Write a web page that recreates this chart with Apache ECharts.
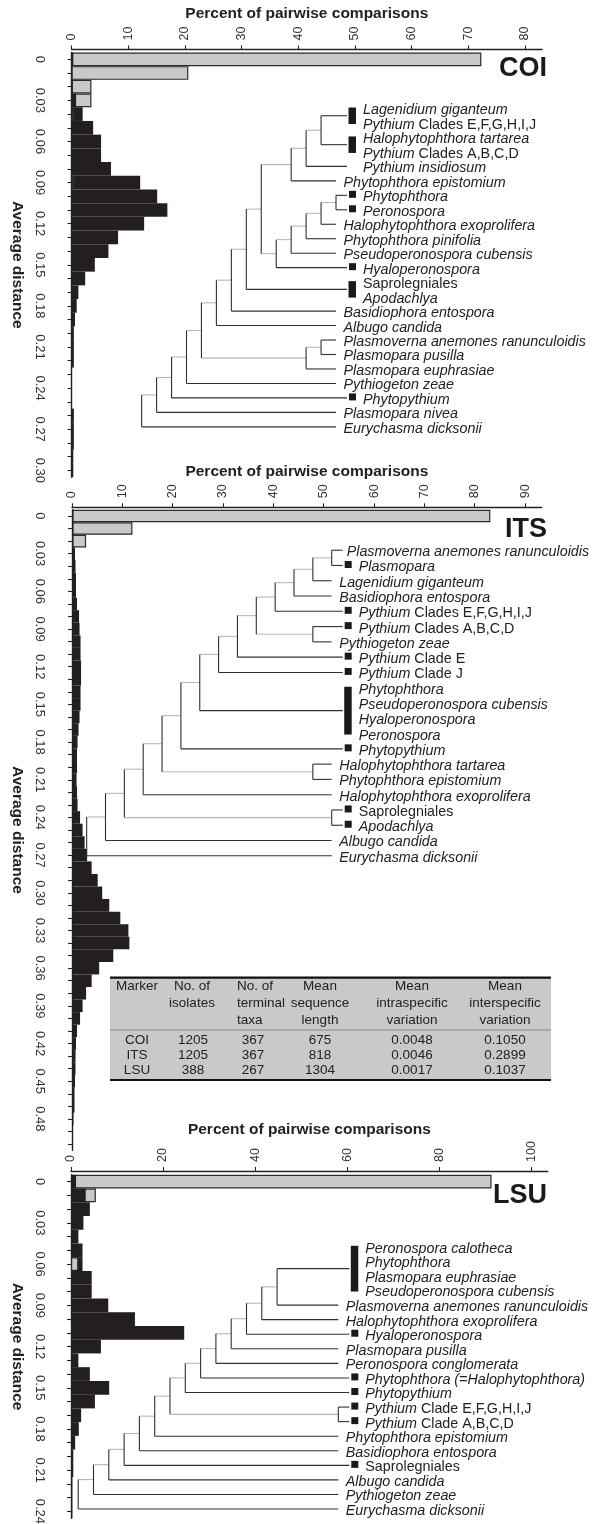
<!DOCTYPE html>
<html><head><meta charset="utf-8">
<script src="https://cdn.jsdelivr.net/npm/echarts@6/dist/echarts.min.js"></script>
<style>html,body{margin:0;padding:0;background:#fff}#c{width:600px;height:1524px}</style>
</head><body><div id="c"></div>
<script>
// ---------------- DATA ----------------
// x-axis tick labels (percent of pairwise comparisons)
const coiTicks = [0,10,20,30,40,50,60,70,80];
const itsTicks = [0,10,20,30,40,50,60,70,80,90];
const lsuTicks = [0,20,40,60,80,100];

// histogram bins of average distance (0.01 wide); grey = intraspecific, black = interspecific
const coiGrey  = [72.3,20.6,3.5,3.5,0.4,0,0,0,0,0.4,0,0,0,0,0,0,0,0,0,0,0,0,0,0,0,0,0,0,0,0,0];
const coiBlack = [0.3,0,0.2,0.8,1.95,3.8,5.2,5.2,6.95,12.1,15.1,16.9,12.8,8.2,6.5,4.1,2.4,1.2,0.9,0.6,0.4,0.4,0.4,0,0,0,0.4,0.4,0.4,0.3,0.3];
const itsGrey  = [83.1,12.0,2.8,0,0,0,0,0,0,0,0,0,0,0,0,0,0,0,0,0,0,0,0,0,0,0,0,0,0,0,0,0,0,0,0,0,0,0,0,0,0,0,0,0,0,0,0,0,0,0,0];
const itsBlack = [0.3,0.3,0.3,0.6,0.7,0.8,0.8,1.0,1.4,1.5,1.7,1.7,1.8,1.8,1.7,1.7,1.5,1.3,1.1,1.0,1.0,0.9,1.0,1.1,1.6,2.1,2.5,3.0,3.9,5.1,6.0,7.4,9.6,11.2,11.4,8.2,5.4,3.9,2.8,2.1,1.6,1.0,0.8,0.7,0.7,0.6,0.5,0.5,0.3,0.2,0.2];
const lsuGrey  = [91.4,5.4,0,0,0,0,1.6,0,0,0,0,0,0,0,0,0,0,0,0,0,0,0,0,0,0];
const lsuBlack = [1.1,3.2,4.1,2.7,1.6,2.5,2.5,4.5,4.5,8.1,13.9,24.6,6.5,1.6,4.1,8.3,5.2,2.2,1.7,0.9,0.5,0.5,0.3,0.3,0.3];

// dendrogram tips (rows), marker kind per row: b = shared-barcode group, s = square, i = indented, '' = none
const coiTaxa = ['Lagenidium giganteum','Pythium Clades E,F,G,H,I,J','Halophytophthora tartarea','Pythium Clades A,B,C,D','Pythium insidiosum','Phytophthora epistomium','Phytophthora','Peronospora','Halophytophthora exoprolifera','Phytophthora pinifolia','Pseudoperonospora cubensis','Hyaloperonospora','Saprolegniales','Apodachlya','Basidiophora entospora','Albugo candida','Plasmoverna anemones ranunculoidis','Plasmopara pusilla','Plasmopara euphrasiae','Pythiogeton zeae','Phytopythium','Plasmopara nivea','Eurychasma dicksonii'];
const coiMarks = ['b','b','b','b','i','','s','s','','','','s','b','b','','','','','','','s','',''];
// merges: [childA, childB, node level]; number = row, [a,b] = grouped rows, 'nK' = merge K
const coiMerges = [[[0,1],[2,3],1],['n0',4,2],['n1',5,3],[6,7,0],['n3',8,1],['n4',9,2],['n5',10,3],['n6',11,4],['n2','n7',5],['n8',[12,13],6],['n9',14,7],['n10',15,8],[16,17,1],['n12',18,2],['n11','n13',9],['n14',19,10],['n15',20,11],['n16',21,12],['n17',22,13]];

const itsTaxa = ['Plasmoverna anemones ranunculoidis','Plasmopara','Lagenidium giganteum','Basidiophora entospora','Pythium Clades E,F,G,H,I,J','Pythium Clades A,B,C,D','Pythiogeton zeae','Pythium Clade E','Pythium Clade J','Phytophthora','Pseudoperonospora cubensis','Hyaloperonospora','Peronospora','Phytopythium','Halophytophthora tartarea','Phytophthora epistomium','Halophytophthora exoprolifera','Saprolegniales','Apodachlya','Albugo candida','Eurychasma dicksonii'];
const itsMarks = ['','s','','','s','s','','s','s','b','b','b','b','s','','','','s','s','',''];
const itsMerges = [[0,1,0],['n0',2,1],['n1',3,2],['n2',4,3],[5,6,1],['n3','n4',4],['n5',7,5],['n6',8,6],['n7',[9,12],7],['n8',13,8],[14,15,1],['n9','n10',9],['n11',16,10],[17,18,0],['n12','n13',11],['n14',19,12],['n15',20,13]];

const lsuTaxa = ['Peronospora calotheca','Phytophthora','Plasmopara euphrasiae','Pseudoperonospora cubensis','Plasmoverna anemones ranunculoidis','Halophytophthora exoprolifera','Hyaloperonospora','Plasmopara pusilla','Peronospora conglomerata','Phytophthora (=Halophytophthora)','Phytopythium','Pythium Clade E,F,G,H,I,J','Pythium Clade A,B,C,D','Phytophthora epistomium','Basidiophora entospora','Saprolegniales','Albugo candida','Pythiogeton zeae','Eurychasma dicksonii'];
const lsuMarks = ['b','b','b','b','','','s','','','s','s','s','s','','','s','','',''];
const lsuMerges = [[[0,3],4,4],['n0',5,5],['n1',6,6],['n2',7,7],['n3',8,8],['n4',9,9],['n5',10,10],[11,12,0],['n6','n7',11],['n8',13,12],['n9',14,13],['n10',15,14],['n11',16,15],['n12',17,16],['n13',18,17]];

// summary table
const tableHead = ['Marker','No. of\nisolates','No. of\nterminal\ntaxa','Mean\nsequence\nlength','Mean\nintraspecific\nvariation','Mean\ninterspecific\nvariation'];
const tableRows = [['COI','1205','367','675','0.0048','0.1050'],['ITS','1205','367','818','0.0046','0.2899'],['LSU','388','267','1304','0.0017','0.1037']];
const markerNames = ['COI','ITS','LSU'];

// ---------------- LAYOUT ----------------
const FONT = '"Liberation Sans", Arial, Helvetica, sans-serif';
const INK = '#231f20';
const panels = [
  {grey:coiGrey, black:coiBlack, ticks:coiTicks, xMax:83, grid:{left:71.6, top:52.45, width:470.4, height:424.7}, yOff:12.3, xOff:3, tag:[547,69],
   tree:{taxa:coiTaxa, marks:coiMarks, merges:coiMerges, tipX:336, step:14.95, row0:110, rowStep:14.47}},
  {grey:itsGrey, black:itsBlack, ticks:itsTicks, xMax:93.3, grid:{left:72, top:509.7, width:469.7, height:640.6}, yOff:12.7, xOff:2.4, tag:[547,530],
   tree:{taxa:itsTaxa, marks:itsMarks, merges:itsMerges, tipX:331.7, step:18.85, row0:551.7, rowStep:15.28}},
  {grey:lsuGrey, black:lsuBlack, ticks:lsuTicks, xMax:103.6, grid:{left:71, top:1174.8, width:476.7, height:343.5}, yOff:11.7, xOff:3.8, tag:[547,1196],
   tree:{taxa:lsuTaxa, marks:lsuMarks, merges:lsuMerges, tipX:338.3, step:15.3, row0:1248.3, rowStep:14.57}}
];

const GREY = {color:'#c9c9c9', borderColor:'#2b2b2b', borderWidth:1.2};
const BLACK = {color:INK, borderWidth:0};
function layer(grey, black, front){
  return grey.map((g,k)=>{
    const b = black[k];
    const greyBig = g >= b;
    const v = front ? Math.min(g,b) : Math.max(g,b);
    if (!v) return '-';
    const isGrey = front ? !greyBig : greyBig;
    return {value:v, itemStyle:isGrey?GREY:BLACK};
  });
}
function fmt(s){
  if (s === 'Saprolegniales') return s;
  const m = s.match(/^(Pythium) (Clades? .*)$/);
  if (m) return '{i|' + m[1] + '} ' + m[2];
  return '{i|' + s + '}';
}
const LBL = 14.3;
function treeRender(t){
  return function(params, api){
    const ch = [];
    const rowY = r => api.coord([0, r])[1];
    const lx = l => api.coord([l, 0])[0];
    const tipX = lx(0);
    const ext = {};
    t.merges.forEach(m => { if (m[2] === 0) [m[0],m[1]].forEach(c => { if (typeof c === 'number') ext[c] = true; }); });
    const nodes = [];
    const pos = c => {
      if (typeof c === 'number') return {x:tipX, y:rowY(c)-1.5, leaf:true, ext: t.marks[c] !== '' || ext[c]};
      if (Array.isArray(c)) return {x:tipX, y:(rowY(c[0])+rowY(c[1]))/2 - 1.5, leaf:true, ext:true, grp:c};
      return nodes[+c.slice(1)];
    };
    const dark = '#303030', light = '#b8b8b8';
    const ln = (x1,y1,x2,y2,col) => ({type:'line', shape:{x1,y1,x2,y2}, style:{stroke:col, lineWidth:1.1}});
    const verts = [];
    t.merges.forEach((m,k)=>{
      const x = lx(m[2]);
      const a = pos(m[0]), b = pos(m[1]);
      [a,b].forEach(c=>{
        const x2 = c.leaf ? tipX + (c.ext ? 11 : 0) : c.x;
        ch.push(ln(x, c.y, x2, c.y, c.leaf ? dark : light));
        if (c.grp) {
          const top = rowY(c.grp[0]) - 2.5, bot = rowY(c.grp[1]) - 0.5;
          ch.push({type:'rect', shape:{x:tipX+12.5, y:top, width:7.5, height:bot-top}, style:{fill:'#1a1a1a'}});
        }
      });
      verts.push(ln(x, a.y, x, b.y, dark));
      nodes[k] = {x, y:(a.y+b.y)/2, leaf:false};
    });
    verts.forEach(v=>ch.push(v));
    t.taxa.forEach((name,r)=>{
      const mk = t.marks[r];
      const y = rowY(r);
      if (mk === 's') ch.push({type:'rect', shape:{x:tipX+13, y:y-6, width:7, height:7}, style:{fill:'#1a1a1a'}});
      const x = mk ? tipX + 27 : (ext[r] ? tipX + 15 : tipX + 7.5);
      ch.push({type:'text', style:{text:fmt(name), x, y:y+0.5, align:'left', verticalAlign:'middle',
        fontFamily:FONT, fontSize:LBL, fill:'#222',
        rich:{i:{fontStyle:'italic', fontFamily:FONT, fontSize:LBL, fill:'#222'}}}});
    });
    return {type:'group', children:ch};
  };
}

const option = {animation:false, backgroundColor:'#fff', grid:[], xAxis:[], yAxis:[], series:[], graphic:[]};
const nameStyle = {fontFamily:FONT, fontWeight:'bold', fontSize:15.5, color:'#222'};
panels.forEach((p,i)=>{
  option.grid.push(Object.assign({containLabel:false, outerBoundsMode:'none'}, p.grid));
  option.xAxis.push({type:'value', gridIndex:i, position:'top', min:0, max:p.xMax, offset:p.xOff,
    name:'Percent of pairwise comparisons', nameLocation:'middle', nameGap:28, nameTextStyle:nameStyle,
    axisLine:{show:true, lineStyle:{color:'#222', width:1.4}},
    axisTick:{show:true, customValues:p.ticks, length:4, lineStyle:{color:'#222', width:1.1}},
    axisLabel:{customValues:p.ticks, rotate:-90, margin:9, fontFamily:FONT, fontSize:12.5, color:'#333'},
    splitLine:{show:false}});
  const n = p.grey.length;
  option.yAxis.push({type:'category', gridIndex:i, inverse:true, offset:p.yOff,
    data:Array.from({length:n}, (_,k)=>(k/100).toFixed(2)),
    name:'Average distance', nameLocation:'middle', nameRotate:-90, nameGap:33, nameTextStyle:nameStyle,
    axisLine:{show:true, lineStyle:{color:'#222', width:1.4}},
    axisTick:{show:true, alignWithLabel:true, interval:0, length:4, lineStyle:{color:'#222', width:1.1}},
    axisLabel:{interval:2, rotate:-90, margin:13, fontFamily:FONT, fontSize:13, color:'#333',
      formatter:v => v === '0.00' ? '0' : v}});
  option.series.push({type:'bar', xAxisIndex:i, yAxisIndex:i, data:layer(p.grey,p.black,false), barWidth:'100%', barGap:'-100%', z:2, silent:true});
  option.series.push({type:'bar', xAxisIndex:i, yAxisIndex:i, data:layer(p.grey,p.black,true), barWidth:'100%', barGap:'-100%', z:3, silent:true});
  option.graphic.push({type:'text', style:{text:markerNames[i], x:p.tag[0], y:p.tag[1], align:'right', verticalAlign:'middle', fontFamily:FONT, fontWeight:'bold', fontSize:27, fill:'#1a1a1a'}});
});
// tree coordinate systems
panels.forEach((p,i)=>{
  const t = p.tree;
  const maxL = Math.max(...t.merges.map(m=>m[2]));
  const gi = 3+i;
  option.grid.push({left:t.tipX - maxL*t.step, top:t.row0, width:maxL*t.step, height:(t.taxa.length-1)*t.rowStep, containLabel:false, outerBoundsMode:'none'});
  option.xAxis.push({type:'value', gridIndex:gi, min:0, max:maxL, inverse:true, show:false});
  option.yAxis.push({type:'value', gridIndex:gi, min:0, max:t.taxa.length-1, inverse:true, show:false});
  option.series.push({type:'custom', coordinateSystem:'cartesian2d', xAxisIndex:gi, yAxisIndex:gi, data:[[0,0]], renderItem:treeRender(t), silent:true, z:5, clip:false});
});
// summary table
(function(){
  const x0 = 110, x1 = 551, top = 977.7, mid = 1030, bot = 1080;
  const g = option.graphic;
  g.push({type:'rect', shape:{x:x0, y:top, width:x1-x0, height:bot-top}, style:{fill:'#c9c9c9'}, z:10});
  g.push({type:'line', shape:{x1:x0, y1:top, x2:x1, y2:top}, style:{stroke:'#111', lineWidth:2.2}, z:11});
  g.push({type:'line', shape:{x1:x0, y1:bot, x2:x1, y2:bot}, style:{stroke:'#111', lineWidth:2.2}, z:11});
  g.push({type:'line', shape:{x1:x0, y1:mid, x2:x1, y2:mid}, style:{stroke:'#7a7a7a', lineWidth:0.8}, z:11});
  const headX = [137, 192, 237, 320, 412, 505];
  const headA = ['center','center','left','center','center','center'];
  const cellX = [137, 193, 253, 320, 412, 505];
  const ts = {fontFamily:FONT, fontSize:13.5, fill:'#222', verticalAlign:'middle'};
  tableHead.forEach((h,c)=>{
    h.split('\n').forEach((line,j)=>{
      g.push({type:'text', z:12, style:Object.assign({text:line, x:headX[c], y:986.7+17*j, align:headA[c]}, ts)});
    });
  });
  tableRows.forEach((row,r)=>{
    row.forEach((v,c)=>{
      g.push({type:'text', z:12, style:Object.assign({text:v, x:cellX[c], y:1040+15.35*r, align:'center'}, ts)});
    });
  });
})();

const chart = echarts.init(document.getElementById('c'), null, {renderer:'canvas', width:600, height:1524});
chart.setOption(option);
</script></body></html>
